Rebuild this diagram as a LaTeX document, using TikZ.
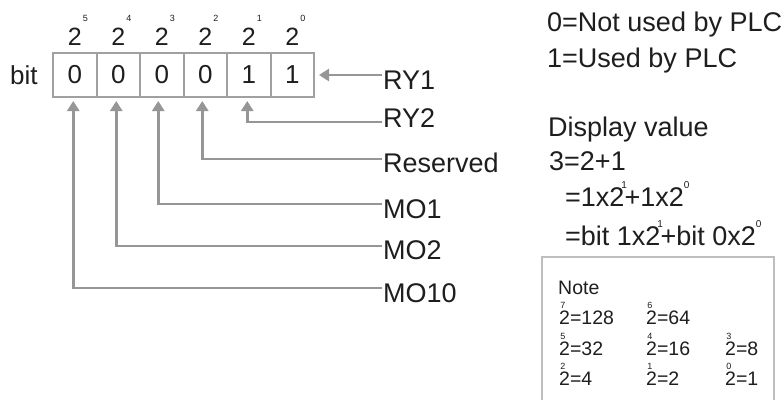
\documentclass[tikz,border=0pt]{standalone}
\usepackage{fontspec}
\setmainfont{Liberation Sans}
\usetikzlibrary{arrows.meta}
\definecolor{ln}{RGB}{150,150,150}
\definecolor{bx}{RGB}{160,160,160}
\definecolor{nb}{RGB}{190,190,190}
\definecolor{tx}{RGB}{30,30,30}
\newcommand\fs[1]{\fontsize{#1}{#1}\selectfont}
% exponent placed over/after a "2"
\newcommand\ovx[3][0em]{\rlap{\kern#1\raisebox{#2}{\fs{10}#3}}}
\begin{document}
\begin{tikzpicture}[x=1pt,y=-1pt,
  cell/.style={draw=bx,line width=2pt,minimum width=43.5pt,minimum height=44pt,inner sep=0,font=\fs{26},text=tx},
  conn/.style={draw=ln,line width=2.6pt,-{Triangle[length=10pt,width=12pt]}},
  lbl/.style={anchor=base west,inner sep=0,font=\fs{27},text=tx},
  txt/.style={anchor=base west,inner sep=0,font=\fs{27},text=tx},
  ntxt/.style={anchor=base west,inner sep=0,font=\fs{19.5},text=tx},
  hdr/.style={anchor=base,inner sep=0,font=\fs{25},text=tx}]
\useasboundingbox (0,0) rectangle (784,399);
\fill[white] (0,0) rectangle (784,399);
% header powers
\foreach \e/\xx in {5/74.75,4/118.25,3/161.75,2/205.25,1/248.75,0/292.25}{
  \node[hdr] (h\e) at (\xx,45) {2\rlap{\kern0.05em\raisebox{0.95em}{\fs{9}\e}}};
}
% bit label
\node[anchor=base west,inner sep=0,font=\fs{26},text=tx] (bit) at (10,84) {bit};
% cells
\node[cell] (b5) at (74.75,75) {0};
\node[cell] (b4) at (118.25,75) {0};
\node[cell] (b3) at (161.75,75) {0};
\node[cell] (b2) at (205.25,75) {0};
\node[cell] (b1) at (248.75,75) {1};
\node[cell] (b0) at (292.25,75) {1};
% labels
\node[lbl] (ry1) at (383,89) {RY1};
\node[lbl] (ry2) at (383,127) {RY2};
\node[lbl] (res) at (383,172) {Reserved};
\node[lbl] (mo1) at (383,218) {MO1};
\node[lbl] (mo2) at (383,259) {MO2};
\node[lbl] (mo10) at (383,302) {MO10};
% connectors
\draw[conn,shorten >=5pt] ([yshift=14pt,xshift=-1pt]ry1.base west) -- ([yshift=14pt,xshift=-1pt]ry1.base west -| b0.east);
\draw[conn,shorten >=3pt] ([yshift=5pt,xshift=-1pt]ry2.base west) -| ([xshift=-1.5pt]b1.south);
\draw[conn,shorten >=3pt] ([yshift=13pt,xshift=-1pt]res.base west) -| ([xshift=-3pt]b2.south);
\draw[conn,shorten >=3pt] ([yshift=14pt,xshift=-1pt]mo1.base west) -| ([xshift=-3.5pt]b3.south);
\draw[conn,shorten >=3pt] ([yshift=13pt,xshift=-1pt]mo2.base west) -| ([xshift=-2pt]b4.south);
\draw[conn,shorten >=3pt] ([yshift=14pt,xshift=-1pt]mo10.base west) -| ([xshift=-1.5pt]b5.south);
% right-hand texts
\node[txt] (t0) at (547,31) {0=Not used by PLC};
\node[txt] (t1) at (547,67) {1=Used by PLC};
\node[txt] (dv) at (548,136) {Display value};
\node[txt] (e1) at (549,170) {3=2+1};
\node[txt] (e2) at (565,206) {=1x2\ovx[-0.12em]{0.66em}{1}+1x2\ovx[0em]{0.66em}{0}};
\node[txt] (e3) at (565,245) {=bit 1x2\ovx[-0.12em]{0.66em}{1}+bit 0x2\ovx[0em]{0.66em}{0}};
% note box
\draw[nb,line width=1.5pt] (542,402) -- (542,257) -- (774,257) -- (774,402);
\node[ntxt] (note) at (558,294) {Note};
\node[ntxt] (n7) at (559,324) {2\ovx[-0.5em]{0.8em}{\fs{9}7}=128};
\node[ntxt] (n6) at (646,324) {2\ovx[-0.5em]{0.8em}{\fs{9}6}=64};
\node[ntxt] (n5) at (559,355) {2\ovx[-0.5em]{0.8em}{\fs{9}5}=32};
\node[ntxt] (n4) at (646,355) {2\ovx[-0.5em]{0.8em}{\fs{9}4}=16};
\node[ntxt] (n3) at (725,355) {2\ovx[-0.5em]{0.8em}{\fs{9}3}=8};
\node[ntxt] (n2) at (559,385) {2\ovx[-0.5em]{0.8em}{\fs{9}2}=4};
\node[ntxt] (n1) at (646,385) {2\ovx[-0.5em]{0.8em}{\fs{9}1}=2};
\node[ntxt] (n0) at (725,385) {2\ovx[-0.5em]{0.8em}{\fs{9}0}=1};
\end{tikzpicture}
\end{document}
